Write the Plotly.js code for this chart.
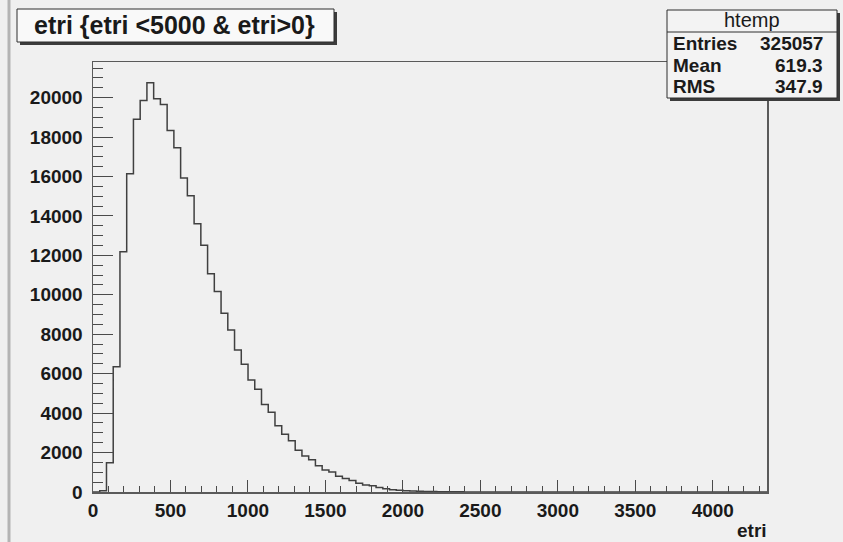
<!DOCTYPE html>
<html><head><meta charset="utf-8">
<script src="https://cdn.plot.ly/plotly-3.0.1.min.js"></script>
<style>html,body{margin:0;padding:0;background:#f0f0f0;}#chart{width:843px;height:542px;}</style>
</head><body><div id="chart"></div>
<script>
// ---- data ----
const binLow = 0;
const binWidth = 43.5;
const counts = [
  0, 60, 1480, 6350, 12190, 16140, 18900, 19860, 20760, 19950,
  19660, 18340, 17460, 15930, 15030, 13610, 12510, 11070, 10170, 9070,
  8220, 7200, 6480, 5680, 5210, 4440, 4040, 3360, 2930, 2600,
  2120, 1820, 1630, 1330, 1120, 1020, 800, 680, 580, 450,
  360, 320, 230, 170, 120, 86, 62, 46, 34, 26,
  20, 15, 12, 9, 7, 5, 4, 3, 2, 2,
  1, 1, 0, 0, 0, 0, 0, 0, 0, 0,
  0, 0, 0, 0, 0, 0, 0, 0, 0, 0,
  0, 0, 0, 0, 0, 0, 0, 0, 0, 0,
  0, 0, 0, 0, 0, 0, 0, 0, 0, 0
];
const xTickVals = [0, 500, 1000, 1500, 2000, 2500, 3000, 3500, 4000];
const xTickText = ['0', '500', '1000', '1500', '2000', '2500', '3000', '3500', '4000'];
const yTickVals = [0, 2000, 4000, 6000, 8000, 10000, 12000, 14000, 16000, 18000, 20000];
const yTickText = ['0', '2000', '4000', '6000', '8000', '10000', '12000', '14000', '16000', '18000', '20000'];
const titleText = 'etri {etri &lt;5000 &amp; etri&gt;0}';
const xTitle = 'etri';
const statsName = 'htemp';
const statsLabels = ['Entries', 'Mean', 'RMS'];
const statsValues = ['325057', '619.3', '347.9'];

// ---- build step outline from bins ----
const hx = [], hy = [];
for (let i = 0; i < counts.length; i++) {
  hx.push(binLow + i * binWidth);
  hy.push(counts[i]);
}
hx.push(binLow + counts.length * binWidth);
hy.push(counts[counts.length - 1]);

// ---- layout helpers (pixel -> paper) ----
const L = 93, R = 767, T = 62, B = 492;
const px = x => (x - L) / (R - L);
const py = y => (B - y) / (B - T);
const FONT = '"Liberation Sans", Arial, sans-serif';
const INK = '#1a1a1a';
const EDGE = '#2e2e2e';

const trace = {
  type: 'scatter', mode: 'lines', x: hx, y: hy,
  line: {shape: 'hv', color: '#404040', width: 1.5},
  hoverinfo: 'skip'
};

const rect = (x0, y0, x1, y1, fill, lc, lw) => ({
  type: 'rect', xref: 'paper', yref: 'paper', layer: 'above',
  x0: px(x0), x1: px(x1), y0: py(y1), y1: py(y0),
  fillcolor: fill, line: {color: lc || fill, width: lw || 0}
});
const seg = (x0, y0, x1, y1, c, w) => ({
  type: 'line', xref: 'paper', yref: 'paper', layer: 'above',
  x0: px(x0), x1: px(x1), y0: py(y0), y1: py(y1),
  line: {color: c, width: w}
});
const ann = (text, x, y, xanchor, size, weight) => ({
  text: text, xref: 'paper', yref: 'paper', x: px(x), y: py(y),
  xanchor: xanchor, yanchor: 'middle', showarrow: false,
  font: {family: FONT, size: size, color: INK, weight: weight}
});

const shapes = [
  seg(9, 0, 9, 542, '#b4b4b4', 3),
  rect(20, 12, 337, 45, '#3c3c3c'),
  rect(17, 9, 334, 42, '#f9f9f9', EDGE, 1),
  rect(670, 13, 840, 101, '#3c3c3c'),
  rect(667, 10, 837, 98, '#f3f3f3', EDGE, 1),
  seg(667, 32, 837, 32, EDGE, 1)
];

const annotations = [
  ann(titleText, 174, 25.5, 'center', 25, 700),
  ann(xTitle, 769, 530, 'right', 19, 700),
  ann(statsName, 752, 20, 'center', 20, 400)
];
const rowY = [43.5, 65, 86.5];
for (let i = 0; i < statsLabels.length; i++) {
  annotations.push(ann(statsLabels[i], 671, rowY[i], 'left', 19, 700));
  annotations.push(ann(statsValues[i], 825, rowY[i], 'right', 19, 700));
}

const axisCommon = {
  ticks: 'inside', tickwidth: 1, tickcolor: '#4a4a4a',
  showline: true, linecolor: '#5a5a5a', linewidth: 1.5, mirror: true,
  showgrid: false, zeroline: false, fixedrange: true,
  tickmode: 'array',
  tickfont: {family: FONT, size: 19, color: INK, weight: 700}
};

const layout = {
  width: 843, height: 542,
  margin: {l: L, r: 843 - R, t: T, b: 542 - B, pad: 0},
  paper_bgcolor: '#f0f0f0', plot_bgcolor: '#f0f0f0',
  showlegend: false,
  xaxis: Object.assign({}, axisCommon, {
    range: [0, 4350], tickvals: xTickVals, ticktext: xTickText,
    ticklen: 12, ticklabelstandoff: 1,
    minor: {tick0: 0, dtick: 100, ticks: 'inside', ticklen: 6, tickwidth: 1, tickcolor: '#4a4a4a', showgrid: false}
  }),
  yaxis: Object.assign({}, axisCommon, {
    range: [0, 21810], tickvals: yTickVals, ticktext: yTickText,
    ticklen: 20, ticklabelstandoff: 5,
    minor: {tick0: 0, dtick: 500, ticks: 'inside', ticklen: 10, tickwidth: 1, tickcolor: '#4a4a4a', showgrid: false}
  }),
  shapes: shapes,
  annotations: annotations
};

Plotly.newPlot('chart', [trace], layout, {displayModeBar: false, staticPlot: true});
</script>
</body></html>
